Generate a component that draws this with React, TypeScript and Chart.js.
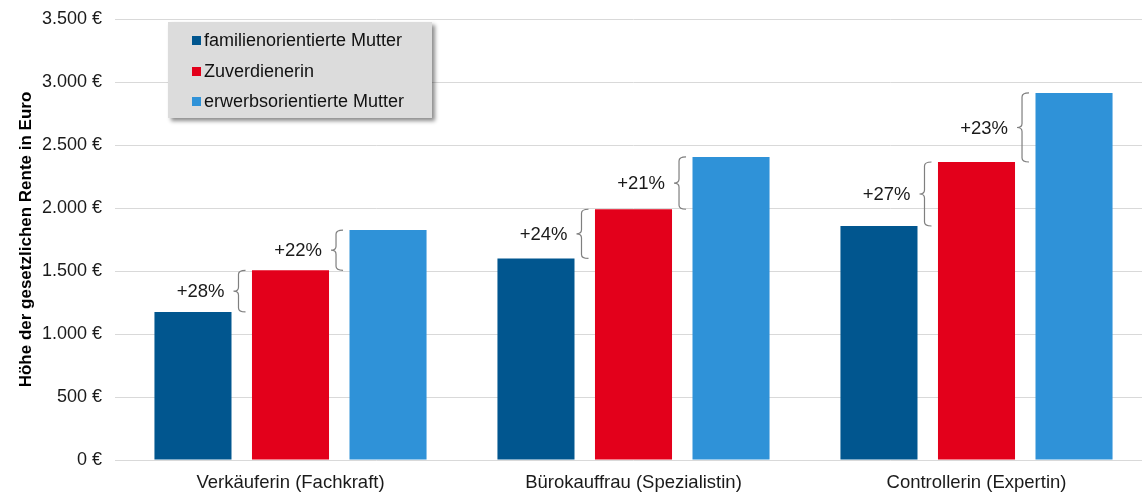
import React, { useEffect, useRef } from "react";
import { Chart, registerables } from "chart.js";

Chart.register(...registerables);

const categories = ["Verkäuferin (Fachkraft)", "Bürokauffrau (Spezialistin)", "Controllerin (Expertin)"];
const seriesNames = ["familienorientierte Mutter", "Zuverdienerin", "erwerbsorientierte Mutter"];
const familienorientiert = [1175, 1600, 1857];
const zuverdienerin = [1505, 1990, 2365];
const erwerbsorientiert = [1825, 2405, 2913];
const increasesStep1 = ["+28%", "+24%", "+27%"];
const increasesStep2 = ["+22%", "+21%", "+23%"];
const yTickValues = [0, 500, 1000, 1500, 2000, 2500, 3000, 3500];
const colors = ["#01568F", "#E3001B", "#2F92D8"];
const FONT = "'Liberation Sans', Arial, sans-serif";

const fmtEuro = (v: number) => {
  const s = String(Math.round(v));
  return s.replace(/\B(?=(\d{3})+(?!\d))/g, ".") + " €";
};

const annotationPlugin = {
  id: "annot",
  afterDatasetsDraw(chart: any) {
    const ctx = chart.ctx as CanvasRenderingContext2D;
    const metas = [0, 1, 2].map((i) => chart.getDatasetMeta(i));
    const drawBrace = (prevBar: any, nextBar: any, label: string) => {
      const tip = prevBar.x + prevBar.width / 2 + 2;
      const xv = tip + 5;
      const xe = tip + 12;
      const yTop = nextBar.y;
      const yBot = prevBar.y;
      const mid = (yTop + yBot) / 2;
      ctx.save();
      ctx.strokeStyle = "#7f7f7f";
      ctx.lineWidth = 1.2;
      ctx.beginPath();
      ctx.moveTo(xe, yTop);
      ctx.quadraticCurveTo(xv, yTop, xv, yTop + 4);
      ctx.lineTo(xv, mid - 4);
      ctx.quadraticCurveTo(xv, mid, tip, mid);
      ctx.quadraticCurveTo(xv, mid, xv, mid + 4);
      ctx.lineTo(xv, yBot - 4);
      ctx.quadraticCurveTo(xv, yBot, xe, yBot);
      ctx.stroke();
      ctx.font = `18.5px ${FONT}`;
      const w = ctx.measureText(label).width;
      const tx = tip - 9;
      ctx.fillStyle = "#ffffff";
      ctx.fillRect(tx - w - 2, mid - 10, w + 4, 20);
      ctx.fillStyle = "#1a1a1a";
      ctx.textAlign = "right";
      ctx.textBaseline = "middle";
      ctx.fillText(label, tx, mid + 1);
      ctx.restore();
    };
    for (let j = 0; j < categories.length; j++) {
      drawBrace(metas[0].data[j], metas[1].data[j], increasesStep1[j]);
      drawBrace(metas[1].data[j], metas[2].data[j], increasesStep2[j]);
    }
  },
  afterDraw(chart: any) {
    const ctx = chart.ctx as CanvasRenderingContext2D;
    const bx = 168, by = 22, bw = 264, bh = 96;
    ctx.save();
    ctx.shadowColor = "rgba(0,0,0,0.45)";
    ctx.shadowBlur = 4;
    ctx.shadowOffsetX = 3;
    ctx.shadowOffsetY = 3;
    ctx.fillStyle = "#dcdcdc";
    ctx.fillRect(bx, by, bw, bh);
    ctx.restore();
    ctx.save();
    ctx.font = `18px ${FONT}`;
    ctx.textBaseline = "middle";
    ctx.textAlign = "left";
    const rows = [40, 71, 101];
    seriesNames.forEach((name, i) => {
      ctx.fillStyle = colors[i];
      ctx.fillRect(192, rows[i] - 4, 9, 9);
      ctx.fillStyle = "#111111";
      ctx.fillText(name, 204, rows[i] + 1);
    });
    ctx.restore();
  },
};

export default function App() {
  const ref = useRef<HTMLCanvasElement | null>(null);
  useEffect(() => {
    if (!ref.current) return;
    const chart = new Chart(ref.current, {
      type: "bar",
      data: {
        labels: categories,
        datasets: [
          { label: seriesNames[0], data: familienorientiert, backgroundColor: colors[0] },
          { label: seriesNames[1], data: zuverdienerin, backgroundColor: colors[1] },
          { label: seriesNames[2], data: erwerbsorientiert, backgroundColor: colors[2] },
        ],
      },
      options: {
        responsive: false,
        animation: false,
        layout: { padding: { top: 19, right: 2, left: 0, bottom: 0 } },
        datasets: { bar: { categoryPercentage: 0.853, barPercentage: 0.79 } },
        plugins: { legend: { display: false }, tooltip: { enabled: false } },
        scales: {
          x: {
            grid: { display: false, drawTicks: false, tickLength: 0 },
            border: { display: false },
            ticks: { color: "#1a1a1a", font: { family: FONT, size: 18.5 }, padding: 12, maxRotation: 0 },
            afterFit: (s: any) => { s.height = 34; s.paddingLeft = 0; s.paddingRight = 0; },
          },
          y: {
            min: 0,
            max: 3500,
            afterBuildTicks: (s: any) => { s.ticks = yTickValues.map((v) => ({ value: v })); },
            grid: { color: "#d9d9d9", lineWidth: 1, tickLength: 4, drawTicks: true },
            border: { display: false },
            ticks: {
              color: "#1a1a1a",
              font: { family: FONT, size: 18 },
              padding: 13,
              callback: (v: any) => fmtEuro(Number(v)),
            },
            title: {
              display: true,
              text: "Höhe der gesetzlichen Rente in Euro",
              color: "#000000",
              font: { family: FONT, size: 17, weight: "bold" },
              padding: { top: 16, bottom: 0 },
            },
            afterFit: (s: any) => { s.width = 119; s.paddingTop = 0; s.paddingBottom = 0; },
          },
        },
      },
      plugins: [annotationPlugin],
    });
    return () => chart.destroy();
  }, []);
  return (
    <div style={{ position: "fixed", left: 0, top: 0, width: 1142, height: 494, overflow: "hidden", background: "#fff" }}>
      <div style={{ width: 1150, height: 494 }}>
        <canvas ref={ref} width={1150} height={494} style={{ display: "block" }} />
      </div>
    </div>
  );
}
